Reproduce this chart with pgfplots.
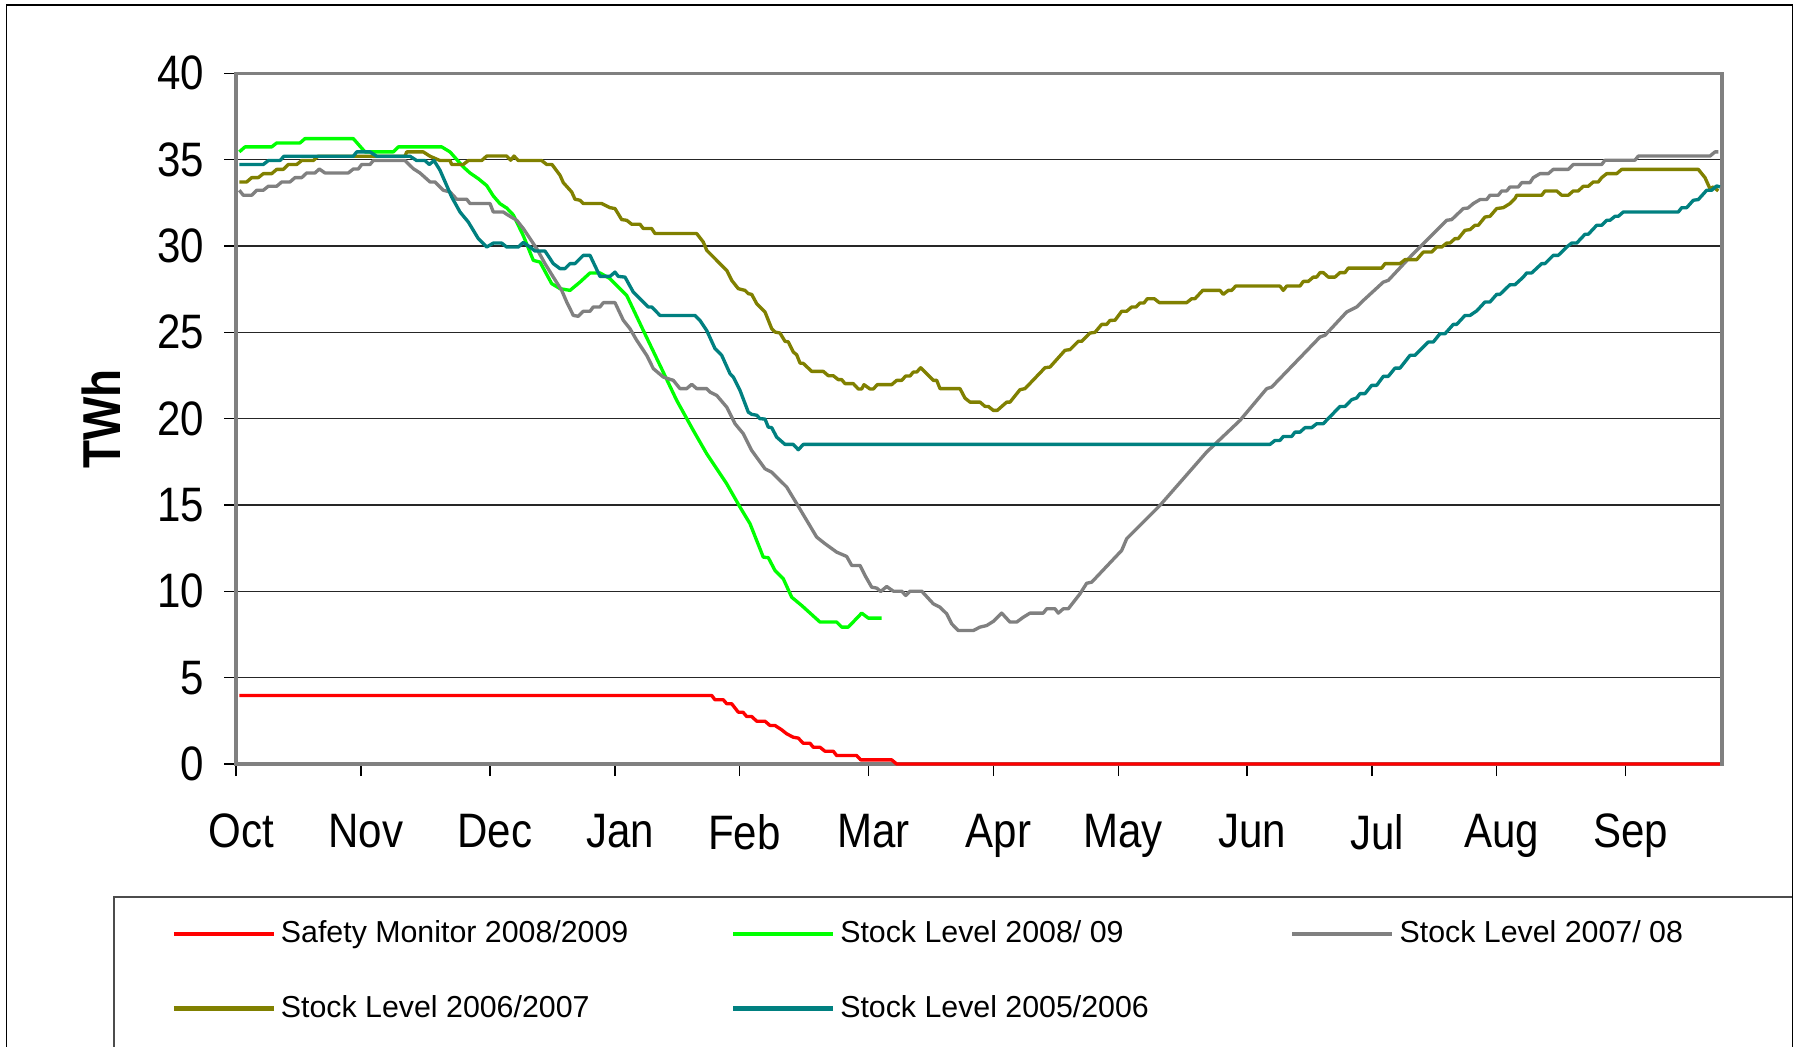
\documentclass[border=0pt]{standalone}
\usepackage{pgfplots}
\pgfplotsset{compat=1.18}
\usepackage{fontspec}
\setmainfont{Liberation Sans}
\usepackage{graphicx}
\definecolor{cGreen}{HTML}{00FF00}
\definecolor{cGray}{HTML}{808080}
\definecolor{cOlive}{HTML}{808000}
\definecolor{cTeal}{HTML}{008080}
\definecolor{cRed}{HTML}{FF0000}
\newcommand\sx[1]{\scalebox{0.87}[1]{#1}}
\begin{document}
\begin{tikzpicture}
\path[use as bounding box] (0,0) rectangle (539.7pt,313.8pt);
\fill[white] (0,0) rectangle (539.7pt,313.8pt);
\draw[black, line width=0.5pt] (1.95pt,-5pt) -- (1.95pt,312.3pt) -- (537.7pt,312.3pt) -- (537.7pt,-5pt);
\draw[black!70, line width=0.6pt] (34.2pt,-5pt) -- (34.2pt,44.8pt) -- (537.7pt,44.8pt);
\begin{axis}[
  at={(70.8pt,84.6pt)}, anchor=south west,
  scale only axis, width=445.7pt, height=207.2pt,
  xmin=236, xmax=1721.7, ymin=0, ymax=40,
  xtick={236,361,490,615,739.3,868.3,993.3,1118.3,1247,1372,1496.7,1625.7},
  xticklabels={\sx{Oct},\sx{Nov},\sx{Dec},\sx{Jan},\sx{Feb},\sx{Mar},\sx{Apr},\sx{May},\sx{Jun},\sx{Jul},\sx{Aug},\sx{Sep}},
  ytick={0,5,10,15,20,25,30,35,40},
  yticklabels={\sx{0},\sx{5},\sx{10},\sx{15},\sx{20},\sx{25},\sx{30},\sx{35},\sx{40}},
  tick align=outside, major tick length=3.6pt,
  xtick pos=left, ytick pos=left,
  tick style={black, line width=0.45pt},
  axis line style={draw=cGray, line width=1.1pt},
  ymajorgrids, major grid style={black!85, line width=0.35pt},
  xticklabel style={font=\fontsize{14.5}{17}\selectfont, anchor=north, inner sep=0pt, yshift=-11.2pt, xshift=1.5pt},
  yticklabel style={font=\fontsize{14.5}{17}\selectfont, anchor=east, inner sep=0pt, xshift=-5.8pt},
  ylabel={\scalebox{0.86}[1]{\bfseries TWh}},
  ylabel style={at={(axis description cs:-0.0905,0.5)}, anchor=center, font=\fontsize{16}{19}\selectfont},
  clip=false,
  every axis plot/.append style={mark=none, line width=1pt, line join=round},
  legend columns=3,
  legend cell align=left,
  legend style={at={(axis description cs:-0.0438,-0.3000)}, anchor=west, draw=none, fill=none,
    inner sep=0pt, column sep=0pt, row sep=11.3pt, font=\fontsize{9.1}{11}\selectfont,
    nodes={inner sep=1.5pt}},
  legend image code/.code={\draw[#1, line width=1.3pt] (0pt,0pt) -- (30pt,0pt);},
]
\addplot[cRed] coordinates {
(239.3,3.97) (711.7,3.97) (715,3.72) (723.3,3.72) (726.7,3.49) (731.7,3.49) (738.3,3.0) (743,3.0) (746.7,2.75) (751.7,2.75) (756.7,2.48) (765,2.48) (770,2.23) (775,2.23) (781.7,1.98) (786.7,1.75) (793.3,1.55) (798.3,1.5) (803.3,1.2) (810,1.2) (813.3,0.97) (820,0.97) (825,0.74) (833.3,0.74) (836.7,0.49) (856.7,0.49) (860.7,0.24) (891.7,0.24) (896.7,0) (1720,0)
};
\addlegendentry{\makebox[133.5pt][l]{Safety Monitor 2008/2009}}
\addplot[cGreen] coordinates {
(239.3,35.45) (245,35.74) (271.7,35.74) (276.7,35.97) (300,35.97) (305,36.22) (353.3,36.22) (365,35.45) (393.3,35.45) (398.3,35.74) (441.7,35.74) (450,35.45) (463.3,34.58) (470,34.23) (478.3,33.9) (486.7,33.5) (493.3,32.9) (500,32.45) (506.7,32.2) (513.3,31.8) (523.3,30.6) (533.3,29.17) (540,29.07) (551.7,27.82) (560,27.53) (570,27.43) (580,27.91) (590,28.44) (600,28.44) (610,28.11) (626.7,27.14) (643.3,25.11) (660,23.09) (676.7,21.06) (693.3,19.32) (706.7,17.97) (726.7,16.23) (740,14.88) (750,13.92) (763.3,11.98) (768.3,11.95) (775,11.21) (783.3,10.73) (791.7,9.66) (801.7,9.18) (820,8.22) (836.7,8.22) (841.7,7.93) (848.3,7.93) (861.7,8.74) (868.3,8.45) (881.7,8.45)
};
\addlegendentry{\makebox[133.5pt][l]{Stock Level 2008/ 09}}
\addplot[cGray] coordinates {
(239.3,33.23) (243.3,32.94) (251.7,32.94) (256.7,33.23) (263.3,33.23) (268.3,33.46) (276.7,33.46) (281.7,33.71) (290,33.71) (295,33.96) (301.7,33.96) (306.7,34.23) (315,34.23) (319.3,34.46) (325,34.23) (348.3,34.23) (353.3,34.46) (358.3,34.46) (361.7,34.72) (370,34.72) (373.3,34.95) (405,34.95) (413.3,34.48) (420,34.23) (430,33.71) (435,33.71) (443.3,33.23) (450,33.13) (456.7,32.71) (466.7,32.71) (470,32.46) (490,32.46) (493.3,31.97) (503.3,31.97) (508.3,31.78) (516.7,31.49) (523.3,31.01) (530,30.43) (536.7,29.85) (545,28.98) (553.3,28.2) (561.7,27.43) (566.7,26.76) (573.3,25.98) (578.3,25.93) (583.3,26.22) (590,26.22) (593.3,26.47) (600,26.47) (603.3,26.72) (615,26.72) (623.3,25.7) (630,25.21) (636.7,24.54) (646.7,23.67) (653.3,22.9) (663.3,22.41) (673.3,22.22) (680,21.74) (686.7,21.74) (691.7,21.99) (696.7,21.74) (706.7,21.74) (710,21.54) (716.7,21.35) (726.7,20.67) (735,19.71) (743.3,19.13) (751.7,18.16) (765,17.1) (771.7,16.9) (786.7,16.04) (796.7,15.08) (806.7,14.11) (816.7,13.14) (825,12.76) (836.7,12.27) (846.7,12.02) (851.7,11.5) (860,11.5) (865,10.92) (871.7,10.24) (876.7,10.19) (880.7,9.99) (886.7,10.28) (893.3,10.01) (901.7,10.01) (905.7,9.76) (910,10.01) (921.7,10.01) (933.3,9.28) (940,9.08) (946.7,8.7) (951.7,8.12) (958.3,7.73) (973.3,7.73) (980,7.93) (986.7,8.02) (993.3,8.26) (1001.7,8.74) (1010,8.22) (1016.7,8.22) (1023.3,8.5) (1030,8.74) (1043.3,8.74) (1046.7,8.99) (1055,8.99) (1058.3,8.74) (1063.3,8.99) (1068.3,8.99) (1080,9.86) (1086.7,10.47) (1091.7,10.53) (1121.7,12.37) (1126.7,13.05) (1160,14.98) (1206.7,18.07) (1240,19.9) (1266.7,21.74) (1271.7,21.83) (1320,24.73) (1325,24.83) (1346.7,26.18) (1356.7,26.47) (1361.7,26.76) (1383.3,27.91) (1388.3,28.01) (1413.3,29.56) (1446.7,31.49) (1451.7,31.53) (1463.3,32.17) (1468,32.2) (1473.3,32.46) (1480,32.69) (1486.7,32.69) (1490,32.94) (1498.3,32.94) (1501.7,33.19) (1506.7,33.19) (1510,33.42) (1518.3,33.42) (1521.7,33.67) (1530,33.67) (1533.3,33.96) (1540,34.19) (1548.3,34.19) (1553.3,34.44) (1568.3,34.44) (1573.3,34.72) (1601.7,34.72) (1605,34.97) (1635,34.97) (1638.3,35.21) (1710,35.21) (1715,35.45) (1718.3,35.45)
};
\addlegendentry{\makebox[133.5pt][l]{Stock Level 2007/ 08}}
\addplot[cOlive] coordinates {
(239.3,33.71) (246.7,33.71) (251.7,33.96) (258.3,33.96) (263.3,34.19) (271.7,34.19) (276.7,34.44) (283.3,34.44) (288.3,34.72) (296.7,34.72) (301.7,34.95) (313.3,34.95) (318,35.2) (405,35.2) (406.7,35.45) (423.3,35.45) (430,35.2) (440,34.95) (450,34.95) (451.7,34.72) (463.3,34.72) (468.3,34.95) (481.7,34.95) (486.7,35.21) (506.7,35.21) (510.7,34.97) (514,35.21) (518.3,34.95) (541.7,34.95) (546.7,34.72) (552,34.72) (560,34.1) (563.3,33.67) (571.7,33.13) (575,32.71) (580,32.65) (583.3,32.46) (601.7,32.46) (610,32.22) (615,32.17) (621.7,31.53) (626.7,31.49) (631.7,31.26) (640,31.26) (643.3,31.01) (651.7,31.01) (655,30.72) (696.7,30.72) (703.3,30.23) (706.7,29.75) (716.7,29.17) (726.7,28.59) (731.7,28.01) (738.3,27.53) (745,27.43) (748.3,27.24) (751.7,27.2) (756.7,26.66) (765,26.18) (771.7,25.21) (775,25.02) (780,24.96) (785,24.48) (788.3,24.45) (793.3,23.86) (796.7,23.7) (800,23.22) (803.3,23.2) (811.7,22.74) (823.3,22.74) (828.3,22.49) (833.3,22.49) (838.3,22.26) (841.7,22.26) (845,22.03) (853.3,22.03) (858.3,21.72) (861.7,21.72) (864,21.97) (870,21.72) (873.3,21.72) (877.3,21.97) (891.7,21.97) (896.7,22.22) (901.7,22.22) (905.7,22.47) (910,22.47) (913.3,22.7) (916.7,22.7) (920.7,22.95) (933.3,22.22) (936.7,22.22) (940,21.74) (960,21.74) (965,21.19) (970,20.96) (980,20.96) (985,20.71) (988.3,20.71) (993.3,20.48) (997.3,20.48) (1006.7,20.96) (1010,20.96) (1020,21.68) (1025,21.74) (1045,22.95) (1050,22.99) (1065,23.96) (1070,24.0) (1078.3,24.48) (1081.7,24.48) (1090,24.96) (1095,25.0) (1101.7,25.46) (1106.7,25.46) (1110,25.69) (1115,25.7) (1121.7,26.22) (1126.7,26.22) (1131.7,26.47) (1136,26.47) (1140,26.7) (1144,26.7) (1147.3,26.95) (1154.3,26.95) (1159.3,26.72) (1186.7,26.72) (1191.7,26.95) (1195,26.95) (1202.7,27.43) (1220,27.43) (1223.3,27.2) (1228.3,27.43) (1231.7,27.43) (1235.7,27.68) (1280,27.68) (1283.3,27.43) (1286.7,27.68) (1300,27.68) (1303.3,27.95) (1308.3,27.95) (1313.3,28.2) (1316.7,28.2) (1320,28.46) (1323.3,28.46) (1328.3,28.2) (1335,28.2) (1340,28.46) (1345,28.46) (1348.3,28.72) (1381.7,28.72) (1385,28.98) (1400,28.98) (1405,29.21) (1416.7,29.21) (1423.3,29.65) (1431.7,29.65) (1436.7,29.94) (1441.7,29.94) (1446.7,30.17) (1450,30.17) (1455,30.43) (1458.3,30.43) (1465,30.91) (1470,30.95) (1475,31.2) (1478.3,31.2) (1485,31.68) (1490,31.72) (1496.7,32.17) (1503.3,32.22) (1510,32.46) (1515,32.75) (1516.7,32.94) (1541.7,32.94) (1545,33.19) (1556.7,33.19) (1561.7,32.94) (1568.3,32.94) (1573.3,33.19) (1578.3,33.19) (1583.3,33.46) (1588.3,33.46) (1593.3,33.71) (1598.3,33.71) (1601.7,33.96) (1606.7,34.19) (1616.7,34.19) (1621.7,34.44) (1698.3,34.44) (1705,33.96) (1710,33.32) (1713.3,33.42) (1718.3,33.19)
};
\addlegendentry{\makebox[133.5pt][l]{Stock Level 2006/2007}}
\addplot[cTeal] coordinates {
(239.3,34.72) (263.3,34.72) (268.3,34.95) (280,34.95) (284,35.2) (353.3,35.2) (356.7,35.45) (370,35.45) (376.7,35.2) (410,35.2) (416.7,34.95) (425,34.95) (429.3,34.72) (434,34.95) (440,34.39) (451.7,32.84) (460,31.97) (468.3,31.39) (478.3,30.43) (486.7,29.94) (493.3,30.17) (501.7,30.17) (506.7,29.94) (518.3,29.94) (523.3,30.21) (530,29.94) (535,29.71) (545,29.71) (553.3,28.98) (560,28.69) (565,28.69) (570,28.98) (575,28.98) (583.3,29.46) (590,29.46) (600,28.24) (610,28.24) (615,28.49) (618.3,28.24) (625,28.2) (633.3,27.33) (648.3,26.47) (651.7,26.47) (660,25.98) (695,25.98) (700,25.69) (706.7,25.11) (715,24.06) (721.7,23.67) (730,22.61) (733.3,22.41) (740,21.64) (748.3,20.38) (751.7,20.25) (756.7,20.2) (760,20.0) (765,19.98) (768.3,19.51) (771.7,19.48) (776.7,18.93) (785,18.51) (793.3,18.51) (798.3,18.2) (803.3,18.51) (1270,18.51) (1275,18.74) (1280,18.74) (1283.3,18.97) (1291.7,18.97) (1295,19.22) (1300,19.22) (1305,19.48) (1311.7,19.48) (1316.7,19.71) (1323.3,19.71) (1340,20.71) (1345,20.71) (1351.7,21.1) (1356.7,21.2) (1360,21.45) (1365,21.45) (1371.7,21.93) (1376.7,21.93) (1383.3,22.45) (1388.3,22.45) (1395,22.93) (1400,22.93) (1406.7,23.42) (1410,23.67) (1415,23.67) (1428.3,24.44) (1433.3,24.44) (1440,24.92) (1445,24.92) (1453.3,25.46) (1456.7,25.46) (1465,25.98) (1470,25.98) (1476.7,26.24) (1485,26.76) (1490,26.76) (1496.7,27.2) (1500,27.2) (1510,27.76) (1515,27.76) (1523.3,28.2) (1526.7,28.44) (1531.7,28.44) (1541.7,28.98) (1545,28.98) (1553.3,29.46) (1558.3,29.46) (1566.7,29.94) (1571.7,30.17) (1576.7,30.17) (1585,30.68) (1588.3,30.68) (1596.7,31.2) (1601.7,31.2) (1606.7,31.49) (1610,31.49) (1615,31.72) (1618.3,31.72) (1623.3,31.97) (1678.3,31.97) (1681.7,32.22) (1686.7,32.22) (1693.3,32.65) (1698.3,32.69) (1706.7,33.23) (1711.7,33.23) (1716.7,33.48) (1720,33.42)
};
\addlegendentry{\makebox[133.5pt][l]{Stock Level 2005/2006}}
\end{axis}
\end{tikzpicture}
\end{document}
